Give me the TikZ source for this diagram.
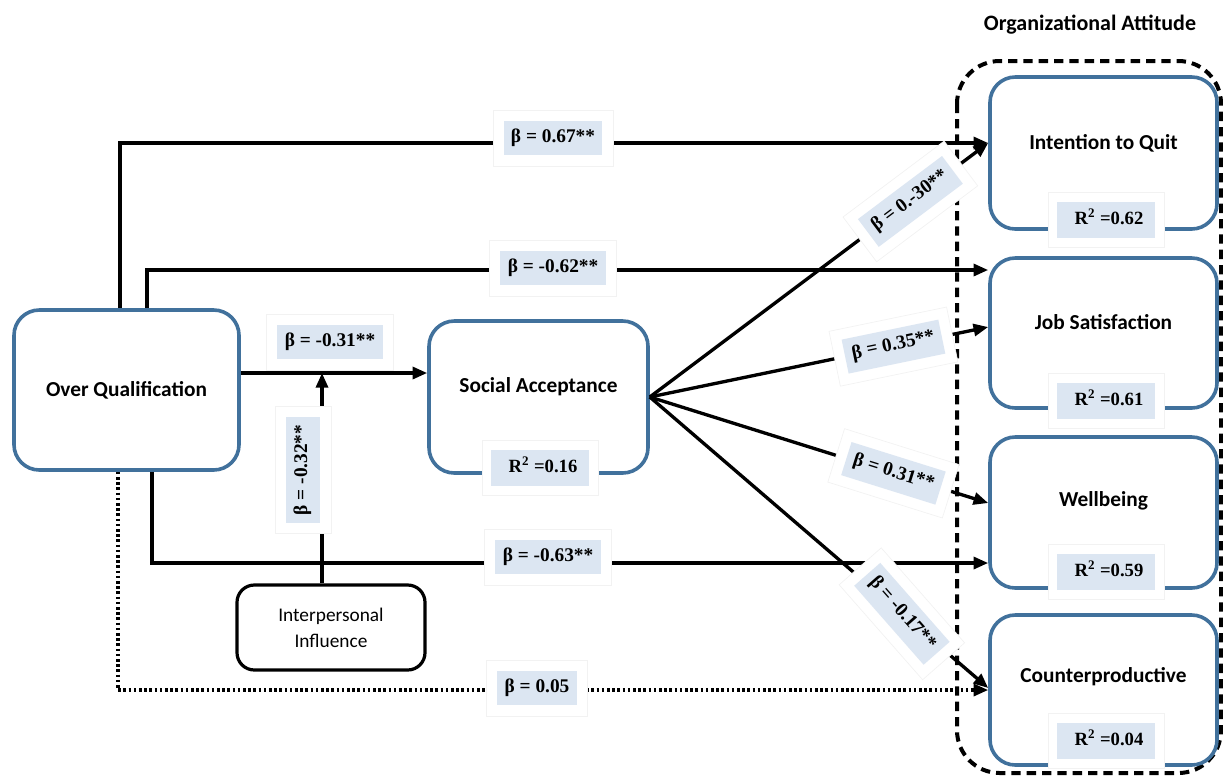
\documentclass[tikz,border=0pt]{standalone}
\usepackage{fontspec}
\setmainfont{Liberation Serif}
\newfontfamily\calibri{Carlito}
\usetikzlibrary{arrows.meta}
\definecolor{boxblue}{HTML}{41719C}
\definecolor{lblue}{HTML}{DCE6F2}
\setlength{\fboxsep}{5.5pt}
\tikzset{
  bbox/.style={draw=boxblue, line width=2.7pt, rounded corners=19pt, fill=white, inner sep=0pt},
  kbox/.style={draw=black, line width=2.4pt, rounded corners=13pt, fill=white, inner sep=0pt},
  btxt/.style={font=\calibri\bfseries\fontsize{16}{19}\selectfont, inner sep=0pt},
  conn/.style={draw=black, line width=2.5pt, -{Triangle[length=11pt,width=9pt]}},
  dotline/.style={dash pattern=on 2pt off 1.9pt},
  blab/.style={fill=white, draw=black!5, line width=0.5pt, inner sep=8pt, font=\bfseries\fontsize{14.5}{16}\selectfont},
  rlab/.style={fill=white, draw=black!5, line width=0.5pt, inner sep=7pt, font=\bfseries\fontsize{14}{16}\selectfont},
  group/.style={draw=black, line width=3pt, dash pattern=on 7pt off 4.5pt, rounded corners=32pt},
}
\newcommand{\lb}[1]{\colorbox{lblue}{\rule[-4.5pt]{0pt}{15pt}#1}}
\newcommand{\rb}[1]{\colorbox{lblue}{\rule[-4.5pt]{0pt}{15pt}\makebox[62pt][r]{#1\hspace{3pt}}}}
\begin{document}
\begin{tikzpicture}[x=0.75pt,y=-0.75pt]
\useasboundingbox (0,0) rectangle (1223,776);
% group frame
\draw[group] (957,61) rectangle (1221,773);
\node[font=\calibri\bfseries\fontsize{16.5}{19}\selectfont] (title) at (1090,25) {Organizational Attitude};

% nodes
\node[bbox, minimum width=168.75pt, minimum height=120pt] (oq) at (126.5,390) {};
\node[bbox, minimum width=164.25pt, minimum height=114pt] (sa) at (538.5,397) {};
\node[kbox, minimum width=141pt, minimum height=63.75pt] (ii) at (331,627.5) {};
\node[bbox, minimum width=170.25pt, minimum height=114pt] (iq) at (1103.5,153) {};
\node[bbox, minimum width=170.25pt, minimum height=112.5pt] (js) at (1103.5,333) {};
\node[bbox, minimum width=170.25pt, minimum height=113.25pt] (wb) at (1103.5,512.5) {};
\node[bbox, minimum width=170.25pt, minimum height=112.5pt] (cp) at (1103.5,690) {};

% connectors
\coordinate (mod) at (322,373);
\draw[conn] (oq.north -| 120,0) |- (iq.west |- 0,143);
\draw[conn] (oq.north -| 147,0) |- (js.west |- 0,270);
\draw[conn] (oq.east |- 0,373) -- (sa.west |- 0,373);
\draw[conn] (ii.north -| mod) -- (mod);
\draw[conn] (oq.south -| 152,0) |- (wb.west |- 0,563);
\draw[conn, dotline] (oq.south -| 118,0) |- (cp.west |- 0,690);
\draw[conn] (sa.east) -- (iq.west |- 0,143);
\draw[conn] (sa.east) -- (js.west |- 0,327);
\draw[conn] (sa.east) -- (wb.west |- 0,503);
\draw[conn] (sa.east) -- (cp.west |- 0,688);

% box texts
\node[btxt] (oqt) at (126.5,390) {Over Qualification};
\node[btxt] (sat) at (538.5,387) {Social Acceptance};
\node[font=\calibri\fontsize{14.5}{20}\selectfont, align=center, inner sep=0pt] (iit) at (331,628) {Interpersonal\\Influence};
\node[btxt] (iqt) at (1103.5,143) {Intention to Quit};
\node[btxt] (jst) at (1103.5,322) {Job Satisfaction};
\node[btxt] (wbt) at (1103.5,501) {Wellbeing};
\node[btxt] (cpt) at (1103.5,677) {Counterproductive};

% R2 labels
\node[rlab] (r1) at (540,468) {\rb{R\textsuperscript{2} =0.16}};
\node[rlab] (r2) at (1106,220) {\rb{R\textsuperscript{2} =0.62}};
\node[rlab] (r3) at (1106,401) {\rb{R\textsuperscript{2} =0.61}};
\node[rlab] (r4) at (1106,572) {\rb{R\textsuperscript{2} =0.59}};
\node[rlab] (r5) at (1106,741) {\rb{R\textsuperscript{2} =0.04}};

% beta labels
\node[blab] (b1) at (553,138) {\lb{β = 0.67**}};
\node[blab] (b2) at (553,268) {\lb{β = -0.62**}};
\node[blab] (b3) at (330,342) {\lb{β = -0.31**}};
\node[blab, rotate=90] (b4) at (303,470) {\lb{β = -0.32**}};
\node[blab] (b5) at (548,557) {\lb{β = -0.63**}};
\node[blab] (b6) at (537,688) {\lb{β = 0.05}};
\path (sa.east) -- (iq.west |- 0,143) node[blab, pos=0.77, sloped] (b7) {\lb{β = 0.-30**}};
\path (sa.east) -- (js.west |- 0,327) node[blab, pos=0.72, sloped] (b8) {\lb{β = 0.35**}};
\path (sa.east) -- (wb.west |- 0,503) node[blab, pos=0.72, sloped] (b9) {\lb{β = 0.31**}};
\path (sa.east) -- (cp.west |- 0,688) node[blab, pos=0.745, sloped, rotate=-8] (b10) {\lb{β = -0.17**}};
\end{tikzpicture}
\end{document}
